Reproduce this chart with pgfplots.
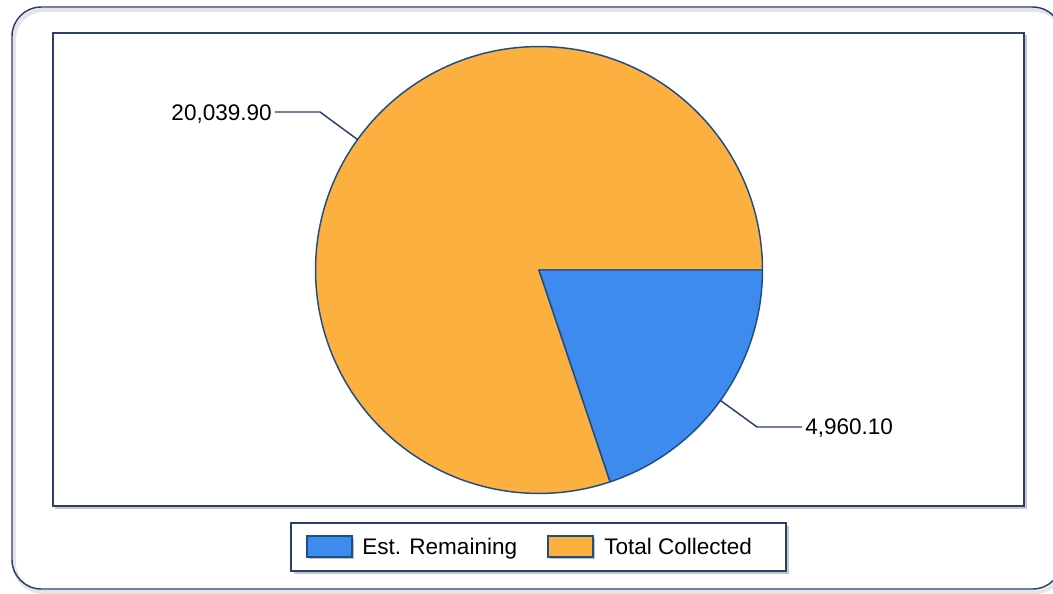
\documentclass[border=0pt]{standalone}
\usepackage{pgfplots}
\pgfplotsset{compat=1.18}
\usetikzlibrary{calc}
\usepackage{fontspec}
\setmainfont{Liberation Sans}

\definecolor{pieorange}{HTML}{FBB040}
\definecolor{pieblue}{HTML}{3D8BEF}
\definecolor{edgeblue}{HTML}{1F4E85}
\definecolor{framenavy}{HTML}{2B4070}

% slice values
\def\valRemaining{4960.10}
\def\valCollected{20039.90}
\edef\angR{\fpeval{round(360*\valRemaining/(\valRemaining+\valCollected),3)}}

\begin{document}
\begin{tikzpicture}[every node/.style={font=\fontsize{16.9}{20}\selectfont, inner sep=0pt}]
\def\rad{167.6pt}
\begin{axis}[
    x=0.75pt, y=0.75pt, y dir=reverse,
    xmin=53, xmax=1024, ymin=33, ymax=506,
    hide axis, clip=false,
  ]
  \coordinate (BL) at (axis cs:0,593);
  \coordinate (TR) at (axis cs:1053,0);
  \fill[white] (BL) rectangle (TR);

  % outer rounded frame
  \draw[gray!20, line width=3pt, rounded corners=22pt] (axis cs:14,10) rectangle (axis cs:1064,592);
  \draw[framenavy, line width=1.1pt, rounded corners=22pt] (axis cs:12,7) rectangle (axis cs:1062,589);

  % plot area frame
  \fill[gray!45] (axis cs:55,35) rectangle (axis cs:1027,509);
  \filldraw[fill=white, draw=framenavy, line width=1.5pt] (axis cs:53,33) rectangle (axis cs:1024,506);

  % pie
  \filldraw[fill=pieorange, draw=edgeblue, line width=1.1pt, line join=round]
    (axis cs:539,270) -- ++(0:\rad) arc[start angle=0, end angle=360-\angR, radius=\rad] -- cycle;
  \filldraw[fill=pieblue, draw=edgeblue, line width=1.1pt, line join=round]
    (axis cs:539,270) -- ++(0:\rad) arc[start angle=0, end angle=-\angR, radius=\rad] -- cycle;

  % leaders and labels
  \draw[framenavy, line width=1.1pt] ($(axis cs:539,270)+(180-\angR/2:\rad)$)
    -- (axis cs:320,112) -- (axis cs:275,112);
  \node[anchor=base east] at (axis cs:272,120) {20,039.90};
  \draw[framenavy, line width=1.1pt] ($(axis cs:539,270)+(-\angR/2:\rad)$)
    -- (axis cs:757,427) -- (axis cs:802,427);
  \node[anchor=base west] at (axis cs:805,434) {4,960.10};

  % legend
  \fill[gray!45] (axis cs:294,526) rectangle (axis cs:789,574);
  \filldraw[fill=white, draw=framenavy, line width=1.1pt] (axis cs:291,523) rectangle (axis cs:786,571);
  \fill[gray!50] (axis cs:309,538) rectangle (axis cs:354,559);
  \filldraw[fill=pieblue, draw=edgeblue, line width=1pt] (axis cs:307,536) rectangle (axis cs:352,557);
  \node[anchor=base west] at (axis cs:362,554) {Est. Remaining};
  \fill[gray!50] (axis cs:550,538) rectangle (axis cs:595,559);
  \filldraw[fill=pieorange, draw=edgeblue, line width=1pt] (axis cs:548,536) rectangle (axis cs:593,557);
  \node[anchor=base west] at (axis cs:604,554) {Total Collected};
\end{axis}
\pgfresetboundingbox
\path (BL) rectangle (TR);
\end{tikzpicture}
\end{document}
